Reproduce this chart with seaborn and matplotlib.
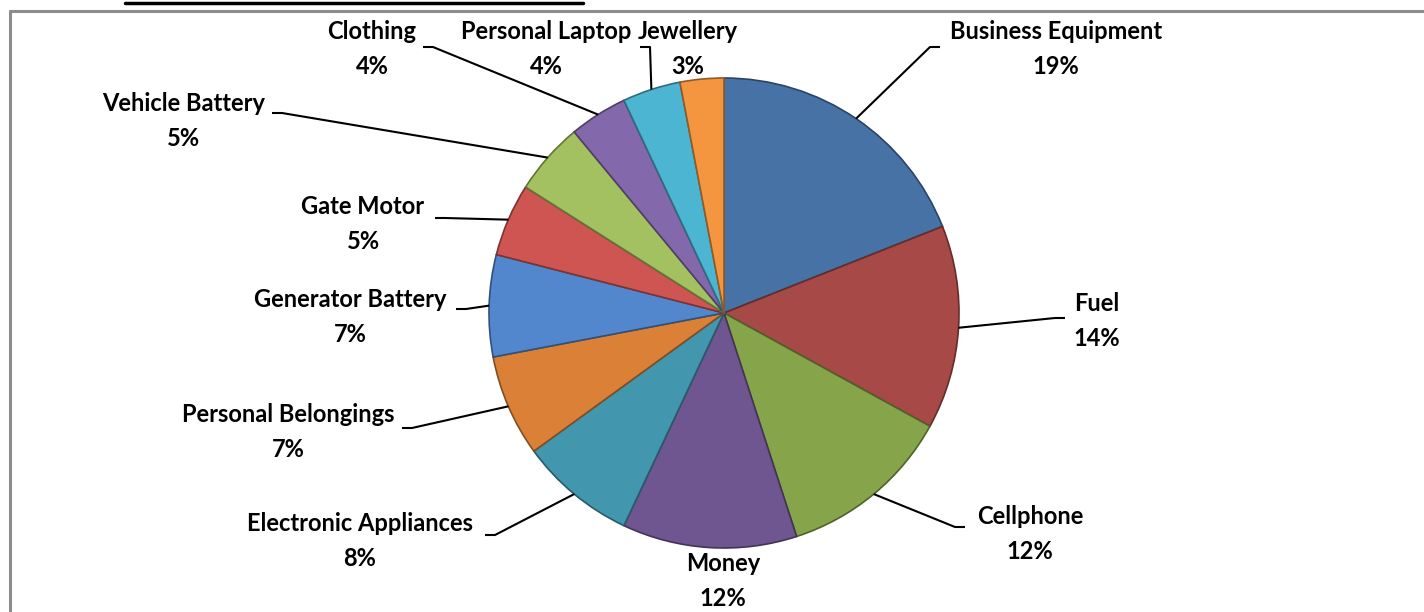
import numpy as np
import seaborn as sns
import matplotlib.pyplot as plt

# data (percent)
items = ['Business Equipment', 'Fuel', 'Cellphone', 'Money', 'Electronic Appliances',
         'Personal Belongings', 'Generator Battery', 'Gate Motor', 'Vehicle Battery',
         'Clothing', 'Personal Laptop', 'Jewellery']
percent = [19, 14, 12, 12, 8, 7, 7, 5, 5, 4, 4, 3]

colors = ['#4672A6', '#A74A47', '#86A44A', '#6F5690', '#4297AF', '#DA8137',
          '#5287CD', '#CF5552', '#A3C160', '#8468AC', '#4CB5D2', '#F4963F']

# label layout in pixels: (label centre x, first-line y, leader end x, leader end y, knee dx)
label_pos = {
    'Business Equipment':    (1056, 33, 940, 47, -10),
    'Fuel':                  (1097, 305, 1065, 318, -10),
    'Cellphone':             (1030, 518, 965, 527, -10),
    'Money':                 (723, 565, None, None, 0),
    'Electronic Appliances': (360, 525, 485, 535, 10),
    'Personal Belongings':   (288, 416, 402, 428, 10),
    'Generator Battery':     (350, 301, 456, 309, 10),
    'Gate Motor':            (363, 208, 435, 218, 10),
    'Vehicle Battery':       (184, 105, 272, 113, 10),
    'Clothing':              (372, 33, 423, 47, 10),
    'Personal Laptop':       (546, 33, 640, 47, 10),
    'Jewellery':             (688, 33, None, None, 0),
}

W, H = 1424, 612
CX, CY, R = 724, 313, 235


def px(x, y):
    # pixel position -> data coords (pie radius = 1)
    return (x - CX) / R, (CY - y) / R


sns.set_theme(style='white')
plt.rcParams['font.family'] = ['Lato', 'DejaVu Sans']

fig = plt.figure(figsize=(W / 100, H / 100), dpi=100)
ax = fig.add_axes([0, 0, 1, 1])

wedges, _ = ax.pie(percent, colors=colors, startangle=90, counterclock=False,
                   radius=1, center=(0, 0), wedgeprops=dict(linewidth=1.2))
for w, c in zip(wedges, colors):
    rgb = np.array(plt.matplotlib.colors.to_rgb(c))
    w.set_edgecolor(tuple(rgb * 0.6))

ax.set_xlim(-CX / R, (W - CX) / R)
ax.set_ylim(-(H - CY) / R, CY / R)
ax.set_aspect('equal')
ax.axis('off')

total = sum(percent)
for w, name, p in zip(wedges, items, percent):
    lx, ly, ex, ey, kdx = label_pos[name]
    x0, y0 = px(lx, ly + 16)
    ax.text(x0, y0, f'{name}\n{p / total * 100:.0f}%', ha='center', va='center',
            fontsize=17, fontweight='bold', color='black', linespacing=1.68)
    if ex is not None:
        ang = np.deg2rad((w.theta1 + w.theta2) / 2)
        edge = (np.cos(ang), np.sin(ang))
        kx, ky = px(ex + kdx, ey)
        fx, fy = px(ex, ey)
        ax.plot([edge[0], kx, fx], [edge[1], ky, fy], color='black', lw=1.5,
                solid_capstyle='butt')

# chart frame and title underline (cropped in the reference)
fig.add_artist(plt.Line2D([10 / W, 10 / W], [0, 1 - 11 / H], color='#8c8c8c', lw=2.2))
fig.add_artist(plt.Line2D([10 / W, 1], [1 - 11 / H, 1 - 11 / H], color='#8c8c8c', lw=2.2))
fig.add_artist(plt.Line2D([125 / W, 583 / W], [1 - 3 / H, 1 - 3 / H], color='black', lw=2.5))

fig.savefig('out.png', dpi=100)
